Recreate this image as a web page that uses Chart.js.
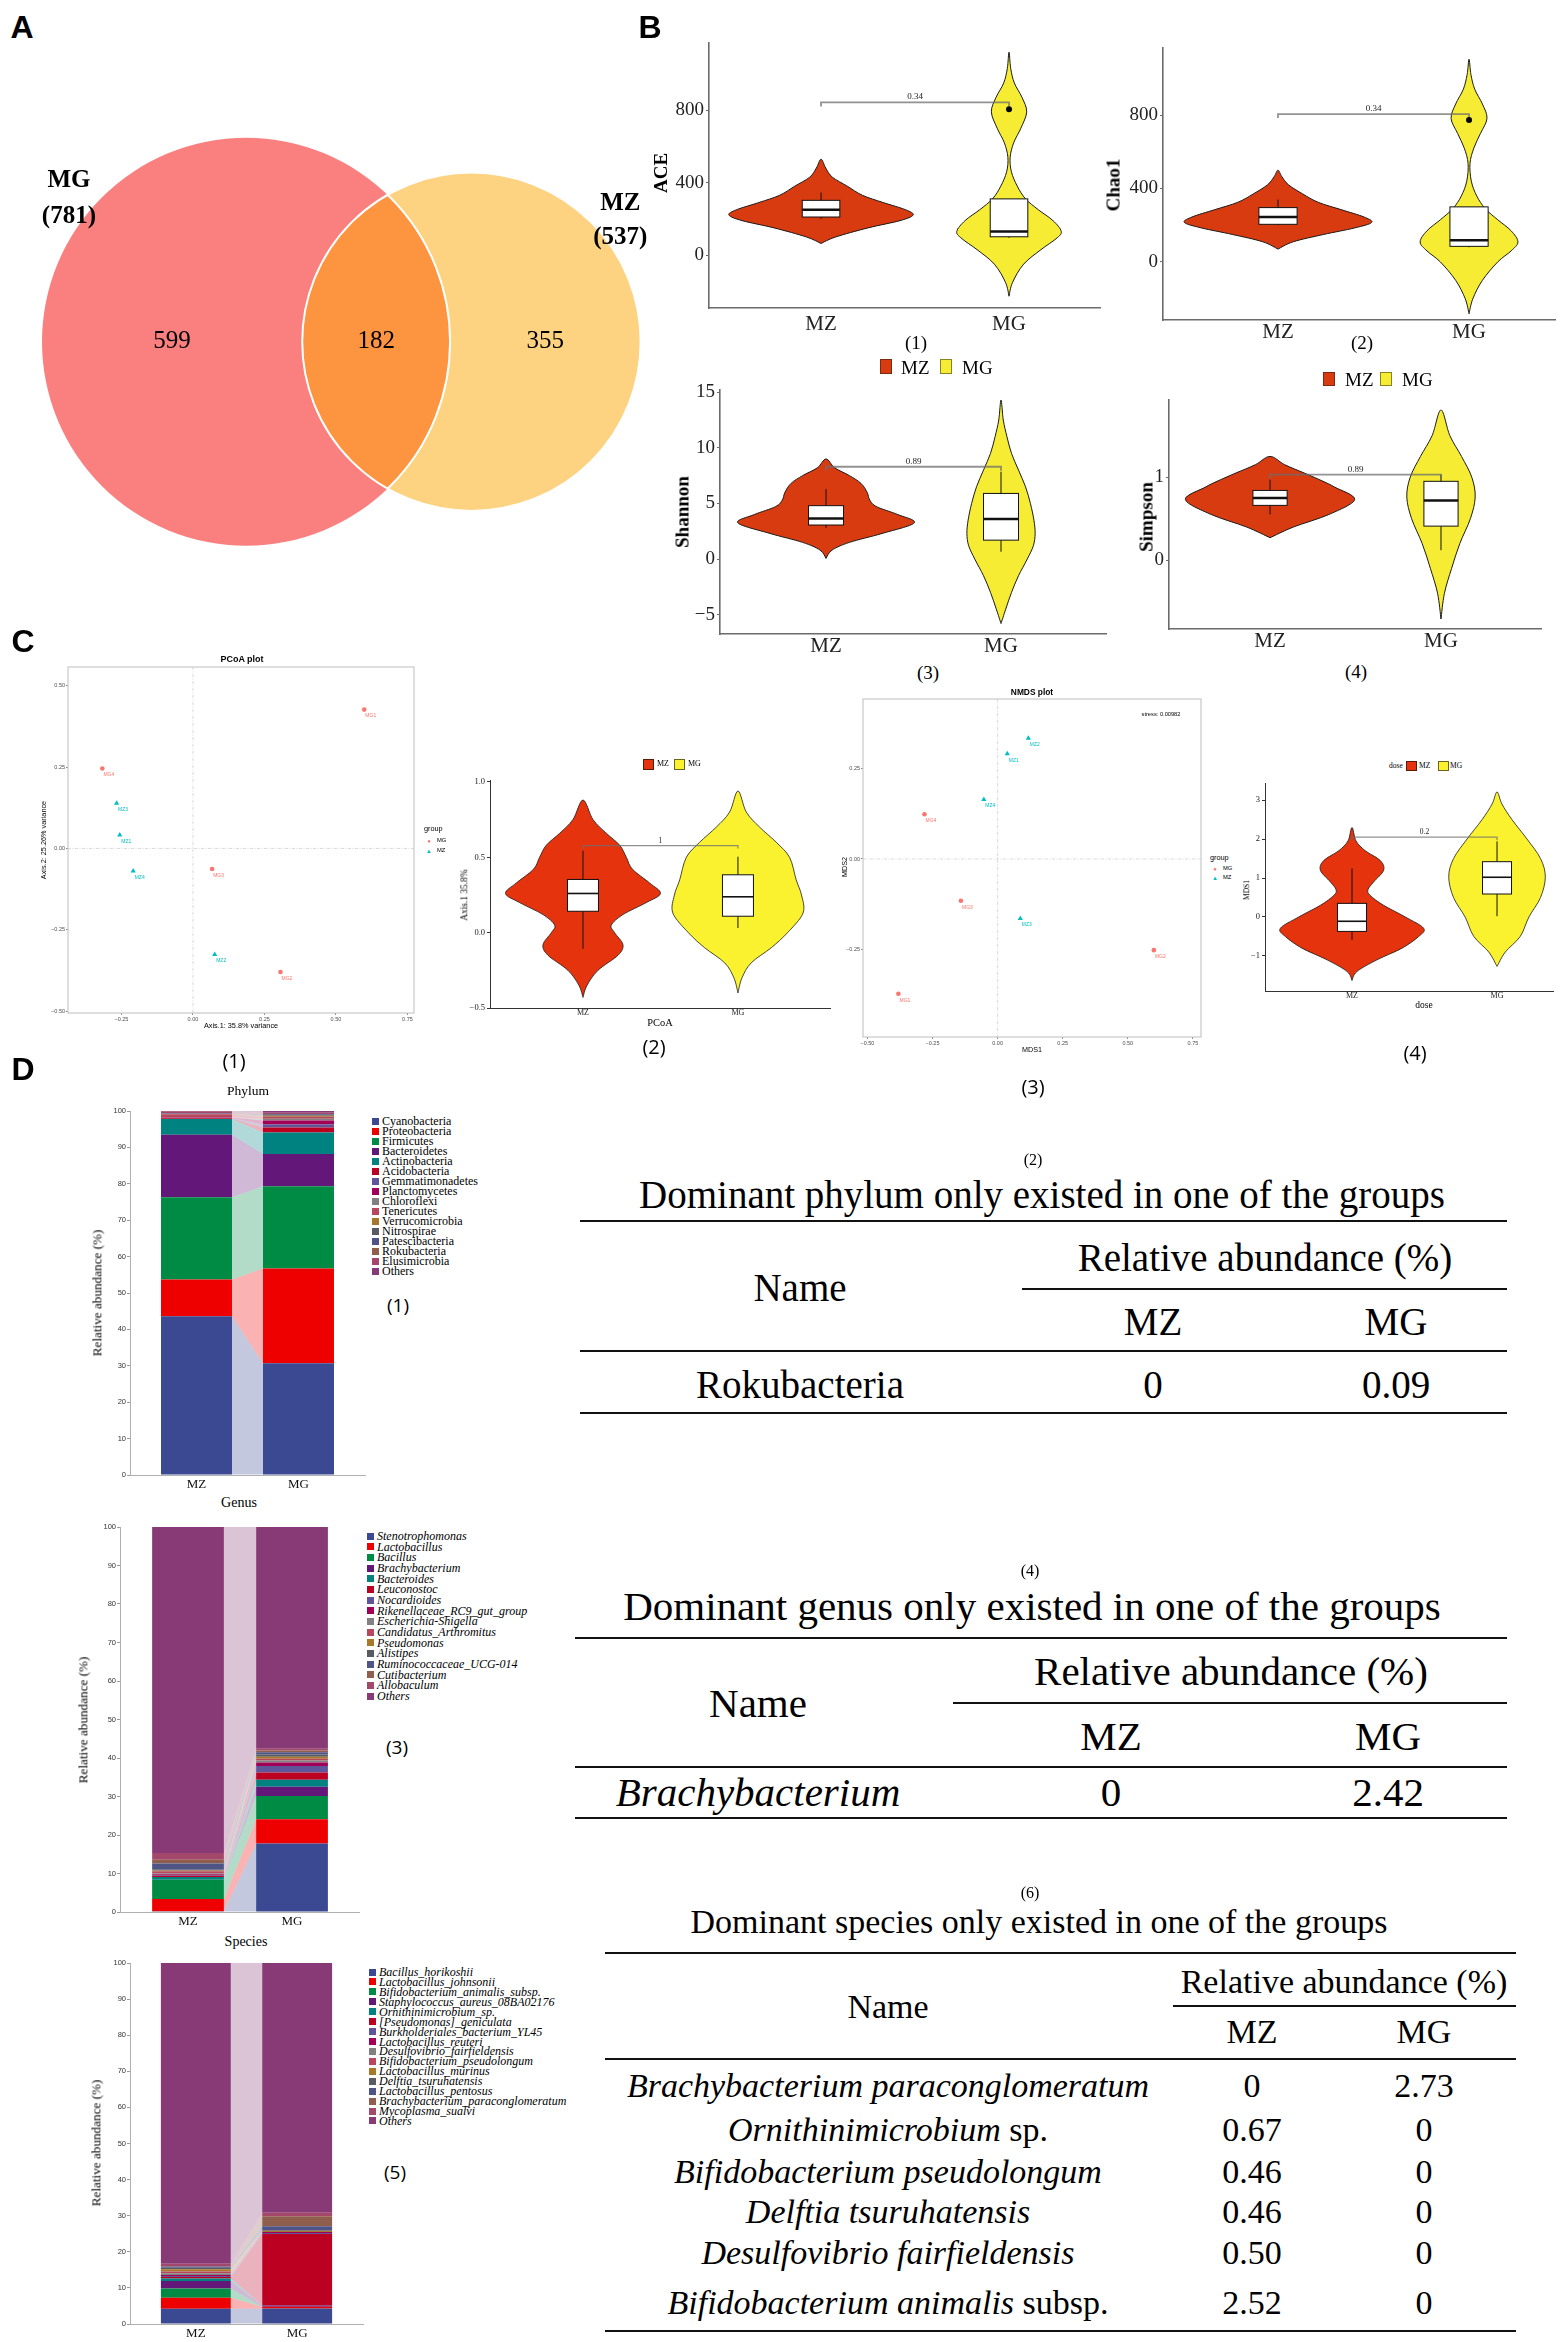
<!DOCTYPE html>
<html>
<head>
<meta charset="utf-8">
<script src="https://cdn.jsdelivr.net/npm/chart.js@4.4.1/dist/chart.umd.min.js"></script>
<style>
html, body { margin: 0; padding: 0; background: #fff; overflow: hidden; }
#page { position: relative; width: 1562px; height: 2342px; background: #fff; }
.t { position: absolute; white-space: nowrap; line-height: 1; color: #000; }
.rule { position: absolute; background: #111; }
.sq { position: absolute; box-sizing: border-box; }
.box { position: absolute; }
</style>
</head>
<body>
<div id="page"></div>
<script>
// ---- data ----
const groups = ['MZ', 'MG'];

// A: Venn
const vennSets = ['MG', 'MZ'];
const vennTotals = [781, 537];
const vennShared = 182;

// B: alpha diversity (violin profile = half width in category units at each level)
const aceTicks = [0, 400, 800];
const aceLevelsMZ = [64, 100, 150, 190, 221, 250, 290, 330, 380, 430, 480, 529];
const aceWidthsMZ = [0, 0.078, 0.25, 0.42, 0.49, 0.45, 0.33, 0.22, 0.14, 0.06, 0.025, 0];
const aceLevelsMG = [-227, -150, -50, 30, 90, 130, 190, 250, 310, 380, 460, 540, 620, 700, 790, 870, 950, 1030, 1120];
const aceWidthsMG = [0, 0.019, 0.078, 0.17, 0.25, 0.278, 0.234, 0.156, 0.088, 0.044, 0.0125, 0.006, 0.025, 0.063, 0.094, 0.069, 0.028, 0.009, 0];
const aceBoxMZ = [200, 210, 250, 302, 345];   // whisker low, q1, median, q3, whisker high
const aceBoxMG = [95, 101, 130, 310, 310];
const aceOutliers = [805];
const aceBracket = 842, aceP = '0.34';

const chaoTicks = [0, 400, 800];
const chaoLevelsMZ = [70, 110, 150, 185, 215, 245, 285, 325, 370, 420, 465, 500];
const chaoWidthsMZ = [0, 0.08, 0.24, 0.40, 0.49, 0.45, 0.33, 0.21, 0.13, 0.055, 0.02, 0];
const chaoLevelsMG = [-282, -200, -100, 0, 60, 109, 170, 230, 290, 360, 440, 536, 620, 700, 782, 860, 940, 1020, 1104];
const chaoWidthsMG = [0, 0.02, 0.07, 0.15, 0.22, 0.256, 0.22, 0.15, 0.085, 0.04, 0.012, 0.005, 0.025, 0.06, 0.094, 0.07, 0.03, 0.01, 0];
const chaoBoxMZ = [200, 205, 245, 296, 340];
const chaoBoxMG = [80, 85, 118, 300, 300];
const chaoOutliers = [773];
const chaoBracket = 805, chaoP = '0.34';

const shTicks = [-5, 0, 5, 10, 15];
const shLevelsMZ = [0.06, 0.8, 1.5, 2.3, 3.25, 4.0, 4.7, 5.3, 6.0, 6.8, 7.5, 8.2, 9.0];
const shWidthsMZ = [0, 0.034, 0.134, 0.32, 0.504, 0.41, 0.29, 0.25, 0.235, 0.2, 0.134, 0.05, 0];
const shLevelsMG = [-5.8, -4.5, -3, -1.5, 0, 1.2, 2.3, 3.5, 5, 6.5, 8, 9.5, 11, 12.5, 14.3];
const shWidthsMG = [0, 0.027, 0.06, 0.1, 0.15, 0.185, 0.195, 0.188, 0.168, 0.14, 0.1, 0.06, 0.034, 0.013, 0];
const shBoxMZ = [2.8, 3.06, 3.65, 4.8, 6.3];
const shBoxMG = [0.66, 1.7, 3.6, 5.9, 7.85];
const shBracket = 8.3, shP = '0.89';

const siTicks = [0, 1];
const siLevelsMZ = [0.27, 0.4, 0.55, 0.73, 0.88, 0.95, 1.05, 1.15, 1.25];
const siWidthsMZ = [0, 0.138, 0.344, 0.495, 0.378, 0.31, 0.2, 0.086, 0];
const siLevelsMG = [-0.71, -0.4, -0.1, 0.2, 0.5, 0.76, 1.0, 1.25, 1.5, 1.81];
const siWidthsMG = [0, 0.02, 0.062, 0.11, 0.172, 0.2, 0.18, 0.12, 0.052, 0];
const siBoxMZ = [0.55, 0.66, 0.75, 0.84, 0.97];
const siBoxMG = [0.12, 0.41, 0.72, 0.95, 1.03];
const siBracket = 1.03, siP = '0.89';

// C: ordination
const sampleNames = ['MG1', 'MG2', 'MG3', 'MG4', 'MZ1', 'MZ2', 'MZ3', 'MZ4'];
const pcoaX = [0.599, 0.306, 0.067, -0.317, -0.256, 0.076, -0.267, -0.209];
const pcoaY = [0.427, -0.380, -0.063, 0.246, 0.041, -0.326, 0.139, -0.069];
const pcoaTicksX = [-0.25, 0, 0.25, 0.5, 0.75];
const pcoaTicksY = [-0.5, -0.25, 0, 0.25, 0.5];
const nmdsX = [-0.381, 0.600, -0.141, -0.281, 0.037, 0.118, 0.087, -0.053];
const nmdsY = [-0.374, -0.253, -0.116, 0.124, 0.292, 0.335, -0.165, 0.165];
const nmdsTicksX = [-0.5, -0.25, 0, 0.25, 0.5, 0.75];
const nmdsTicksY = [-0.25, 0, 0.25];

const paTicks = [-0.5, 0, 0.5, 1.0];
const paLevelsMZ = [-0.43, -0.35, -0.25, -0.15, -0.08, 0.0, 0.05, 0.12, 0.2, 0.26, 0.33, 0.42, 0.5, 0.58, 0.66, 0.75, 0.88];
const paWidthsMZ = [0, 0.026, 0.097, 0.226, 0.258, 0.204, 0.183, 0.258, 0.41, 0.5, 0.43, 0.32, 0.28, 0.237, 0.15, 0.065, 0];
const paLevelsMG = [-0.40, -0.3, -0.2, -0.1, 0.0, 0.13, 0.25, 0.35, 0.5, 0.6, 0.7, 0.8, 0.94];
const paWidthsMG = [0, 0.026, 0.086, 0.215, 0.32, 0.42, 0.41, 0.376, 0.333, 0.247, 0.14, 0.054, 0];
const paBoxMZ = [-0.107, 0.142, 0.26, 0.353, 0.544];
const paBoxMG = [0.031, 0.109, 0.238, 0.384, 0.504];
const paBracket = 0.578, paP = '1';

const mdTicks = [-1, 0, 1, 2, 3];
const mdLevelsMZ = [-1.63, -1.4, -1.1, -0.8, -0.5, -0.29, 0.0, 0.3, 0.55, 0.7, 0.9, 1.2, 1.45, 1.7, 1.95, 2.3];
const mdWidthsMZ = [0, 0.034, 0.172, 0.345, 0.46, 0.494, 0.368, 0.218, 0.126, 0.11, 0.149, 0.218, 0.195, 0.092, 0.028, 0];
const mdLevelsMG = [-1.27, -0.9, -0.5, 0.0, 0.5, 1.03, 1.5, 2.0, 2.5, 2.9, 3.21];
const mdWidthsMG = [0, 0.057, 0.16, 0.22, 0.3, 0.333, 0.3, 0.207, 0.103, 0.034, 0];
const mdBoxMZ = [-0.59, -0.37, -0.11, 0.35, 1.25];
const mdBoxMG = [0.02, 0.59, 1.02, 1.42, 1.94];
const mdBracket = 2.05, mdP = '0.2';

// D: relative abundance (%)
const abundanceTicks = [0, 10, 20, 30, 40, 50, 60, 70, 80, 90, 100];
const phylumNames = ['Cyanobacteria', 'Proteobacteria', 'Firmicutes', 'Bacteroidetes', 'Actinobacteria', 'Acidobacteria', 'Gemmatimonadetes', 'Planctomycetes', 'Chloroflexi', 'Tenericutes', 'Verrucomicrobia', 'Nitrospirae', 'Patescibacteria', 'Rokubacteria', 'Elusimicrobia', 'Others'];
const phylumMZ = [43.6, 10.1, 22.6, 17.2, 4.3, 0.2, 0.1, 0.1, 0.1, 0.8, 0.05, 0.05, 0.1, 0, 0.6, 0.1];
const phylumMG = [30.7, 26.0, 22.6, 8.9, 5.9, 1.4, 0.8, 1.1, 0.5, 0.5, 0.3, 0.2, 0.2, 0.09, 0.3, 0.51];
const genusNames = ['Stenotrophomonas', 'Lactobacillus', 'Bacillus', 'Brachybacterium', 'Bacteroides', 'Leuconostoc', 'Nocardioides', 'Rikenellaceae_RC9_gut_group', 'Escherichia-Shigella', 'Candidatus_Arthromitus', 'Pseudomonas', 'Alistipes', 'Ruminococcaceae_UCG-014', 'Cutibacterium', 'Allobaculum', 'Others'];
const genusMZ = [0.2, 3.2, 5.0, 0, 0.7, 0.3, 0.2, 0.2, 0.2, 0.6, 0.2, 0.2, 1.6, 1.0, 1.7, 84.7];
const genusMG = [17.8, 6.3, 6.0, 2.42, 1.8, 1.9, 1.7, 0.9, 0.5, 0.5, 0.5, 0.6, 0.6, 0.4, 0.5, 57.58];
const speciesNames = ['Bacillus_horikoshii', 'Lactobacillus_johnsonii', 'Bifidobacterium_animalis_subsp.', 'Staphylococcus_aureus_08BA02176', 'Ornithinimicrobium_sp.', '[Pseudomonas]_geniculata', 'Burkholderiales_bacterium_YL45', 'Lactobacillus_reuteri', 'Desulfovibrio_fairfieldensis', 'Bifidobacterium_pseudolongum', 'Lactobacillus_murinus', 'Delftia_tsuruhatensis', 'Lactobacillus_pentosus', 'Brachybacterium_paraconglomeratum', 'Mycoplasma_sualvi', 'Others'];
const speciesMZ = [4.2, 3.1, 2.52, 2.1, 0.67, 0.4, 0.3, 0.3, 0.50, 0.46, 0.6, 0.46, 0.3, 0, 0.8, 83.29];
const speciesMG = [4.3, 0.5, 0, 0.3, 0, 19.8, 0.3, 0.3, 0, 0, 0.3, 0, 1.3, 2.73, 1.0, 69.17];

// D tables
const phylumOnlyNames = ['Rokubacteria'], phylumOnlyMZ = ['0'], phylumOnlyMG = ['0.09'];
const genusOnlyNames = ['<i>Brachybacterium</i>'], genusOnlyMZ = ['0'], genusOnlyMG = ['2.42'];
const speciesOnlyNames = ['<i>Brachybacterium paraconglomeratum</i>', '<i>Ornithinimicrobium</i> sp.', '<i>Bifidobacterium pseudolongum</i>', '<i>Delftia tsuruhatensis</i>', '<i>Desulfovibrio fairfieldensis</i>', '<i>Bifidobacterium animalis</i> subsp.'];
const speciesOnlyMZ = ['0', '0.67', '0.46', '0.46', '0.50', '2.52'];
const speciesOnlyMG = ['2.73', '0', '0', '0', '0', '0'];

// ---- styles ----
const SERIF = "'Liberation Serif', 'Times New Roman', serif";
const SANS = "'Liberation Sans', Arial, sans-serif";
const OPEN = "'Open Sans', sans-serif";
const taxaColors = ['#3B4992', '#EE0000', '#008B45', '#631879', '#008280', '#BB0021', '#5F559B', '#A20056', '#808180', '#B8475E', '#A8782A', '#585B62', '#4E5485', '#8F5E4C', '#A3486A', '#883A76'];
const ordColors = { MG: '#F8766D', MZ: '#00BFC4' };
const B_RED = '#D93B11', B_YEL = '#F5EC33', C_RED = '#E4330D', C_YEL = '#FBF22F';

Chart.defaults.animation = false;
Chart.defaults.responsive = true;
Chart.defaults.maintainAspectRatio = false;
Chart.defaults.plugins.legend.display = false;
Chart.defaults.plugins.tooltip.enabled = false;
Chart.defaults.font.family = SERIF;
Chart.defaults.color = '#222';

const page = document.getElementById('page');

function text(str, x, y, size, o = {}) {
  const d = document.createElement('div');
  d.className = 't';
  d.innerHTML = str;
  d.style.left = x + 'px';
  d.style.top = y + 'px';
  d.style.fontSize = size + 'px';
  d.style.fontFamily = o.family || SERIF;
  if (o.bold) d.style.fontWeight = 'bold';
  if (o.italic) d.style.fontStyle = 'italic';
  if (o.color) d.style.color = o.color;
  d.style.transform = o.rotate ? 'translate(-50%,-50%) rotate(-90deg)' : (o.left ? 'translate(0,-50%)' : 'translate(-50%,-50%)');
  page.appendChild(d);
  return d;
}

function swatch(x1, y1, x2, y2, color, border) {
  const d = document.createElement('div');
  d.className = 'sq';
  d.style.cssText += `left:${x1}px;top:${y1}px;width:${x2 - x1}px;height:${y2 - y1}px;background:${color};` + (border ? `border:1px solid ${border};` : '');
  page.appendChild(d);
}

function rule(x1, x2, y, w) {
  const d = document.createElement('div');
  d.className = 'rule';
  d.style.cssText += `left:${x1}px;top:${y - w / 2}px;width:${x2 - x1}px;height:${w}px;`;
  page.appendChild(d);
}

// canvas placed so that its chart area lands on the given box
function frame(area, m) {
  const wrap = document.createElement('div');
  wrap.className = 'box';
  const w = area.r - area.l + m.L + m.R, h = area.b - area.t + m.T + m.B;
  wrap.style.cssText += `left:${area.l - m.L}px;top:${area.t - m.T}px;width:${w}px;height:${h}px;`;
  const c = document.createElement('canvas');
  wrap.appendChild(c);
  page.appendChild(wrap);
  return {
    canvas: c,
    layout: { autoPadding: false, padding: { top: m.T, right: m.R, left: 0, bottom: 0 } },
    fitY: s => { s.width = m.L; },
    fitX: s => { s.height = m.B; }
  };
}

const fixedTicks = values => s => { s.ticks = values.map(v => ({ value: v })); };
const minus = s => String(s).replace('-', '\u2212');

function smooth(ctx, pts) {
  ctx.moveTo(pts[0][0], pts[0][1]);
  for (let i = 0; i < pts.length - 1; i++) {
    const p0 = pts[i - 1] || pts[i], p1 = pts[i], p2 = pts[i + 1], p3 = pts[i + 2] || p2;
    ctx.bezierCurveTo(p1[0] + (p2[0] - p0[0]) / 6, p1[1] + (p2[1] - p0[1]) / 6,
      p2[0] - (p3[0] - p1[0]) / 6, p2[1] - (p3[1] - p1[1]) / 6, p2[0], p2[1]);
  }
}

function fade(hex, a) {
  const n = parseInt(hex.slice(1), 16);
  return `rgba(${n >> 16},${(n >> 8) & 255},${n & 255},${a})`;
}

// ---- plugins ----
const vennPlugin = {
  id: 'venn',
  afterDraw(chart) {
    const { ctx, scales: { x, y } } = chart;
    const r1 = Math.sqrt(vennTotals[0]), r2 = Math.sqrt(vennTotals[1]);
    const lens = d => {
      const a1 = Math.acos((d * d + r1 * r1 - r2 * r2) / (2 * d * r1));
      const a2 = Math.acos((d * d + r2 * r2 - r1 * r1) / (2 * d * r2));
      const k = Math.sqrt((-d + r1 + r2) * (d + r1 - r2) * (d - r1 + r2) * (d + r1 + r2));
      return r1 * r1 * a1 + r2 * r2 * a2 - 0.5 * k;
    };
    let lo = Math.abs(r1 - r2) + 1e-6, hi = r1 + r2 - 1e-6;
    for (let i = 0; i < 60; i++) {
      const mid = (lo + hi) / 2;
      if (lens(mid) > Math.PI * vennShared) lo = mid; else hi = mid;
    }
    const d = (lo + hi) / 2;
    const cy = y.getPixelForValue(0);
    const shape = (cx, r) => {
      const px = x.getPixelForValue(cx);
      const rx = x.getPixelForValue(cx + r) - px, ry = cy - y.getPixelForValue(r);
      ctx.beginPath();
      ctx.ellipse(px, cy, rx, ry, 0, 0, Math.PI * 2);
      return { px, rx, ry };
    };
    ctx.save();
    const mg = shape(0, r1); ctx.fillStyle = '#FA8080'; ctx.fill();
    const mz = shape(d, r2); ctx.fillStyle = '#FDD280'; ctx.fill();
    ctx.save(); shape(0, r1); ctx.clip();
    shape(d, r2); ctx.fillStyle = '#FD9440'; ctx.fill();
    ctx.restore();
    ctx.strokeStyle = '#fff'; ctx.lineWidth = 2;
    shape(d, r2); ctx.stroke();
    ctx.save(); shape(d, r2); ctx.clip(); shape(0, r1); ctx.stroke(); ctx.restore();

    ctx.fillStyle = '#000'; ctx.textAlign = 'center'; ctx.textBaseline = 'middle';
    ctx.font = `25px ${SERIF}`;
    const onlyA = vennTotals[0] - vennShared, onlyB = vennTotals[1] - vennShared;
    ctx.fillText(onlyA, x.getPixelForValue((-r1 + d - r2) / 2), cy);
    ctx.fillText(vennShared, x.getPixelForValue((d - r2 + r1) / 2), cy);
    ctx.fillText(onlyB, x.getPixelForValue((r1 + d + r2) / 2), cy);
    ctx.font = `bold 25px ${SERIF}`;
    ctx.fillText(vennSets[0], mg.px - 0.868 * mg.rx, cy - 0.79 * mg.ry);
    ctx.fillText(`(${vennTotals[0]})`, mg.px - 0.868 * mg.rx, cy - 0.615 * mg.ry);
    ctx.fillText(vennSets[1], mz.px + 0.88 * mz.rx, cy - 0.82 * mz.ry);
    ctx.fillText(`(${vennTotals[1]})`, mz.px + 0.88 * mz.rx, cy - 0.615 * mz.ry);
    ctx.restore();
  }
};

const violinPlugin = {
  id: 'violin',
  beforeDatasetsDraw(chart, args, o) {
    const { ctx, scales: { x, y } } = chart;
    ctx.save();
    o.groups.forEach((g, gi) => {
      const cx = gi + 1;
      const right = g.levels.map((v, i) => [x.getPixelForValue(cx + g.widths[i]), y.getPixelForValue(v)]);
      const left = g.levels.map((v, i) => [x.getPixelForValue(cx - g.widths[i]), y.getPixelForValue(v)]).reverse();
      ctx.beginPath();
      smooth(ctx, right.concat(left.slice(1)));
      ctx.closePath();
      ctx.fillStyle = g.color; ctx.fill();
      ctx.strokeStyle = '#1a1a1a'; ctx.lineWidth = o.lineW; ctx.stroke();

      const [wl, q1, med, q3, wh] = g.box;
      const xc = x.getPixelForValue(cx);
      const bl = x.getPixelForValue(cx - o.boxW / 2), br = x.getPixelForValue(cx + o.boxW / 2);
      ctx.beginPath();
      ctx.moveTo(xc, y.getPixelForValue(wl)); ctx.lineTo(xc, y.getPixelForValue(q1));
      ctx.moveTo(xc, y.getPixelForValue(q3)); ctx.lineTo(xc, y.getPixelForValue(wh));
      ctx.strokeStyle = '#111'; ctx.lineWidth = 1; ctx.stroke();
      const top = y.getPixelForValue(q3), bot = y.getPixelForValue(q1);
      ctx.fillStyle = '#fff';
      ctx.fillRect(bl, top, br - bl, bot - top);
      ctx.strokeRect(bl, top, br - bl, bot - top);
      const my = y.getPixelForValue(med);
      ctx.beginPath(); ctx.moveTo(bl, my); ctx.lineTo(br, my);
      ctx.lineWidth = o.medW; ctx.stroke();
    });
    const b = o.bracket;
    const by = y.getPixelForValue(b.y), x1 = x.getPixelForValue(1), x2 = x.getPixelForValue(2);
    ctx.beginPath();
    ctx.moveTo(x1, by + b.tip); ctx.lineTo(x1, by); ctx.lineTo(x2, by); ctx.lineTo(x2, by + b.tip);
    ctx.strokeStyle = 'rgba(110,110,110,0.75)'; ctx.lineWidth = b.w; ctx.stroke();
    ctx.fillStyle = '#222'; ctx.font = `${b.size}px ${SERIF}`;
    ctx.textAlign = 'center'; ctx.textBaseline = 'bottom';
    ctx.fillText(b.text, (x1 + x2) / 2, by - 1);
    ctx.restore();
  }
};

const ordinationPlugin = {
  id: 'ordination',
  beforeDatasetsDraw(chart) {
    const { ctx, chartArea: a, scales: { x, y } } = chart;
    ctx.save();
    ctx.strokeStyle = '#cfcfcf'; ctx.lineWidth = 0.8;
    ctx.setLineDash([3, 1.5, 1, 1.5]);
    const x0 = x.getPixelForValue(0), y0 = y.getPixelForValue(0);
    ctx.beginPath(); ctx.moveTo(x0, a.top); ctx.lineTo(x0, a.bottom);
    ctx.moveTo(a.left, y0); ctx.lineTo(a.right, y0); ctx.stroke();
    ctx.setLineDash([]);
    ctx.strokeStyle = '#c8c8c8'; ctx.lineWidth = 1.2;
    ctx.strokeRect(a.left, a.top, a.right - a.left, a.bottom - a.top);
    ctx.restore();
  },
  afterDatasetsDraw(chart) {
    const ctx = chart.ctx;
    ctx.save();
    ctx.font = `5px ${SANS}`; ctx.textAlign = 'center'; ctx.textBaseline = 'middle';
    chart.data.datasets.forEach((ds, i) => {
      chart.getDatasetMeta(i).data.forEach((pt, j) => {
        ctx.fillStyle = ds.backgroundColor;
        ctx.fillText(ds.data[j].name, pt.x + 6.5, pt.y + 6.5);
      });
    });
    ctx.restore();
  }
};

const alluvialPlugin = {
  id: 'alluvial',
  beforeDatasetsDraw(chart) {
    const ctx = chart.ctx;
    ctx.save();
    chart.data.datasets.forEach((ds, i) => {
      const [a, b] = chart.getDatasetMeta(i).data;
      const ax = a.x + a.width / 2, bx = b.x - b.width / 2;
      ctx.beginPath();
      ctx.moveTo(ax, a.y); ctx.lineTo(bx, b.y); ctx.lineTo(bx, b.base); ctx.lineTo(ax, a.base);
      ctx.closePath();
      ctx.fillStyle = fade(ds.backgroundColor, 0.3);
      ctx.fill();
    });
    ctx.restore();
  }
};

// ---- chart builders ----
function violinChart(area, m, c) {
  const f = frame(area, m);
  new Chart(f.canvas, {
    type: 'scatter',
    data: { datasets: [{ data: c.outliers.map(v => ({ x: 2, y: v })), pointRadius: 3, backgroundColor: '#000', borderWidth: 0 }] },
    options: {
      layout: f.layout,
      scales: {
        x: {
          type: 'linear', min: c.xMin, max: c.xMax, afterFit: f.fitX, afterBuildTicks: fixedTicks([1, 2]),
          grid: { display: false, drawTicks: false },
          border: { display: true, color: c.axisColor, width: c.axisW },
          ticks: { callback: v => groups[v - 1], font: { family: SERIF, size: c.catSize }, color: '#222', padding: c.catPad, maxRotation: 0, autoSkip: false }
        },
        y: {
          min: c.yMin, max: c.yMax, afterFit: f.fitY, afterBuildTicks: fixedTicks(c.ticks),
          grid: { display: true, drawOnChartArea: false, drawTicks: true, tickLength: 3, color: c.axisColor },
          border: { display: true, color: c.axisColor, width: c.axisW },
          ticks: { callback: c.fmt, font: { family: SERIF, size: c.tickSize }, color: '#222', padding: 2, autoSkip: false }
        }
      },
      plugins: { violin: c.violin }
    },
    plugins: [violinPlugin]
  });
}

function ordinationChart(area, m, xs, ys, c) {
  const f = frame(area, m);
  const datasets = ['MG', 'MZ'].map(g => ({
    data: sampleNames.map((n, i) => ({ x: xs[i], y: ys[i], name: n })).filter(p => p.name.startsWith(g)),
    pointStyle: g === 'MG' ? 'circle' : 'triangle',
    pointRadius: g === 'MG' ? 2.3 : 3,
    backgroundColor: ordColors[g], borderColor: ordColors[g], borderWidth: 0
  }));
  const tick = { font: { family: SANS, size: 5.5 }, color: '#4d4d4d', padding: 1, autoSkip: false, maxRotation: 0, callback: v => minus(v.toFixed(2)) };
  new Chart(f.canvas, {
    type: 'scatter',
    data: { datasets },
    options: {
      layout: f.layout,
      scales: {
        x: { min: c.xMin, max: c.xMax, afterFit: f.fitX, afterBuildTicks: fixedTicks(c.ticksX),
          grid: { display: true, drawOnChartArea: false, tickLength: 2, color: '#888' }, border: { display: false }, ticks: tick },
        y: { min: c.yMin, max: c.yMax, afterFit: f.fitY, afterBuildTicks: fixedTicks(c.ticksY),
          grid: { display: true, drawOnChartArea: false, tickLength: 2, color: '#888' }, border: { display: false }, ticks: tick }
      }
    },
    plugins: [ordinationPlugin]
  });
}

function stackChart(area, m, names, mz, mg, c) {
  const f = frame(area, m);
  new Chart(f.canvas, {
    type: 'bar',
    data: {
      datasets: names.map((n, i) => ({
        label: n, data: [{ x: 1, y: mz[i] }, { x: 2, y: mg[i] }],
        backgroundColor: taxaColors[i], borderWidth: 0, categoryPercentage: c.cat, barPercentage: 1
      }))
    },
    options: {
      layout: f.layout,
      scales: {
        x: {
          type: 'linear', stacked: true, offset: false, min: c.xMin, max: c.xMax, afterFit: f.fitX, afterBuildTicks: fixedTicks([1, 2]),
          grid: { display: false, drawTicks: false }, border: { display: true, color: '#b0b0b0', width: 1 },
          ticks: { callback: v => groups[v - 1], font: { family: SERIF, size: 13 }, color: '#111', padding: 2, maxRotation: 0, autoSkip: false }
        },
        y: {
          stacked: true, min: 0, max: 100, afterFit: f.fitY, afterBuildTicks: fixedTicks(abundanceTicks),
          grid: { display: true, drawOnChartArea: false, tickLength: 3, color: '#9a9a9a' }, border: { display: true, color: '#b0b0b0', width: 1 },
          ticks: { font: { family: SANS, size: 7.5 }, color: '#333', padding: 1, autoSkip: false }
        }
      }
    },
    plugins: [alluvialPlugin]
  });
}

function taxaLegend(names, x, y0, step, italic) {
  names.forEach((n, i) => {
    const y = y0 + i * step;
    swatch(x, y - 3.5, x + 7, y + 3.5, taxaColors[i]);
    text(n, x + 10, y, 12, { left: true, italic });
  });
}

function table(t) {
  text(t.tag, t.tagX, t.tagY, 16);
  text(t.title, t.titleX, t.titleY, t.size);
  rule(t.x1, t.x2, t.top, 2.5);
  text('Name', t.nameX, t.nameY, t.size);
  text('Relative abundance (%)', t.raX, t.raY, t.size);
  rule(t.subX, t.x2, t.subY, 2);
  text('MZ', t.mzX, t.hdrY, t.size);
  text('MG', t.mgX, t.hdrY, t.size);
  rule(t.x1, t.x2, t.mid, 2.5);
  t.rows.forEach((ry, i) => {
    text(t.names[i], t.nameX, ry, t.size);
    text(t.mz[i], t.mzX, ry, t.size);
    text(t.mg[i], t.mgX, ry, t.size);
  });
  rule(t.x1, t.x2, t.bottom, 2.5);
}

// ---- A ----
(function () {
  const wrap = document.createElement('div');
  wrap.className = 'box';
  wrap.style.cssText += 'left:0px;top:60px;width:660px;height:600px;';
  const c = document.createElement('canvas');
  wrap.appendChild(c);
  page.appendChild(wrap);
  new Chart(c, {
    type: 'scatter',
    data: { datasets: [] },
    options: {
      layout: { autoPadding: false, padding: 0 },
      scales: { x: { display: false, min: -33.7, max: 56.7 }, y: { display: false, min: -43.6, max: 38.6 } }
    },
    plugins: [vennPlugin]
  });
})();

// ---- B ----
const bStyle = { tickSize: 19, catSize: 21, catPad: 0, axisColor: '#6b6b6b', axisW: 1.6 };
const bViolin = (mz, mg, bracket, p) => ({ groups: [{ ...mz, color: B_RED }, { ...mg, color: B_YEL }], boxW: 0.2, medW: 2.5, lineW: 1,
  bracket: { y: bracket, text: p, size: 9, tip: 4, w: 1.8 } });

violinChart({ l: 709, t: 43, r: 1100, b: 308 }, { L: 59, T: 15, R: 8, B: 30 }, { ...bStyle, catPad: 4,
  xMin: 0.404, xMax: 2.484, yMin: -292, yMax: 1170, ticks: aceTicks, fmt: minus, outliers: aceOutliers,
  violin: bViolin({ levels: aceLevelsMZ, widths: aceWidthsMZ, box: aceBoxMZ }, { levels: aceLevelsMG, widths: aceWidthsMG, box: aceBoxMG }, aceBracket, aceP) });
violinChart({ l: 1163, t: 48, r: 1555, b: 320 }, { L: 50, T: 15, R: 5, B: 25 }, { ...bStyle,
  xMin: 0.398, xMax: 2.45, yMin: -316, yMax: 1165, ticks: chaoTicks, fmt: minus, outliers: chaoOutliers,
  violin: bViolin({ levels: chaoLevelsMZ, widths: chaoWidthsMZ, box: chaoBoxMZ }, { levels: chaoLevelsMG, widths: chaoWidthsMG, box: chaoBoxMG }, chaoBracket, chaoP) });
violinChart({ l: 720, t: 390, r: 1106, b: 634 }, { L: 50, T: 15, R: 5, B: 25 }, { ...bStyle,
  xMin: 0.394, xMax: 2.6, yMin: -6.74, yMax: 15.2, ticks: shTicks, fmt: minus, outliers: [],
  violin: bViolin({ levels: shLevelsMZ, widths: shWidthsMZ, box: shBoxMZ }, { levels: shLevelsMG, widths: shWidthsMG, box: shBoxMG }, shBracket, shP) });
violinChart({ l: 1169, t: 400, r: 1541, b: 629 }, { L: 40, T: 15, R: 5, B: 25 }, { ...bStyle,
  xMin: 0.409, xMax: 2.585, yMin: -0.83, yMax: 1.93, ticks: siTicks, fmt: minus, outliers: [],
  violin: bViolin({ levels: siLevelsMZ, widths: siWidthsMZ, box: siBoxMZ }, { levels: siLevelsMG, widths: siWidthsMG, box: siBoxMG }, siBracket, siP) });

text('ACE', 660, 173, 19, { rotate: true, bold: true });
text('Chao1', 1113, 185, 19, { rotate: true, bold: true });
text('Shannon', 682, 512, 19, { rotate: true, bold: true });
text('Simpson', 1146, 517, 19, { rotate: true, bold: true });
text('(1)', 916, 342, 19); text('(2)', 1362, 342, 19);
text('(3)', 928, 672, 19); text('(4)', 1356, 671, 19);
swatch(880, 359, 892, 374, B_RED, '#7a2a10'); text('MZ', 901, 367, 19, { left: true });
swatch(940, 359, 952, 374, B_YEL, '#8a8420'); text('MG', 962, 367, 19, { left: true });
swatch(1323, 372, 1335, 386, B_RED, '#7a2a10'); text('MZ', 1345, 379, 19, { left: true });
swatch(1380, 372, 1392, 386, B_YEL, '#8a8420'); text('MG', 1402, 379, 19, { left: true });

// ---- C ----
ordinationChart({ l: 68, t: 667, r: 414, b: 1013 }, { L: 30, T: 6, R: 5, B: 10 }, pcoaX, pcoaY,
  { xMin: -0.437, xMax: 0.773, yMin: -0.506, yMax: 0.558, ticksX: pcoaTicksX, ticksY: pcoaTicksY });
ordinationChart({ l: 863, t: 699, r: 1201, b: 1037 }, { L: 30, T: 6, R: 5, B: 10 }, nmdsX, nmdsY,
  { xMin: -0.517, xMax: 0.781, yMin: -0.494, yMax: 0.444, ticksX: nmdsTicksX, ticksY: nmdsTicksY });

const cStyle = { tickSize: 8.5, catSize: 8, catPad: 0, axisColor: '#333', axisW: 1 };
const cViolin = (mz, mg, bracket, p) => ({ groups: [{ ...mz, color: C_RED }, { ...mg, color: C_YEL }], boxW: 0.2, medW: 1.6, lineW: 0.8,
  bracket: { y: bracket, text: p, size: 7.5, tip: 3, w: 1.3 } });
violinChart({ l: 490, t: 780, r: 830, b: 1008 }, { L: 40, T: 8, R: 5, B: 14 }, { ...cStyle,
  xMin: 0.4, xMax: 2.594, yMin: -0.5, yMax: 1.013, ticks: paTicks, fmt: v => minus(v.toFixed(1)), outliers: [],
  violin: cViolin({ levels: paLevelsMZ, widths: paWidthsMZ, box: paBoxMZ }, { levels: paLevelsMG, widths: paWidthsMG, box: paBoxMG }, paBracket, paP) });
violinChart({ l: 1265, t: 783, r: 1553, b: 991 }, { L: 30, T: 8, R: 5, B: 14 }, { ...cStyle,
  xMin: 0.4, xMax: 2.386, yMin: -1.9, yMax: 3.44, ticks: mdTicks, fmt: minus, outliers: [],
  violin: cViolin({ levels: mdLevelsMZ, widths: mdWidthsMZ, box: mdBoxMZ }, { levels: mdLevelsMG, widths: mdWidthsMG, box: mdBoxMG }, mdBracket, mdP) });

text('PCoA plot', 242, 659, 9, { family: SANS, bold: true });
text('Axis.1: 35.8% variance', 241, 1026, 7.3, { family: SANS });
text('Axis.2: 25.26% variance', 44, 840, 7.3, { family: SANS, rotate: true });
text('group', 424, 829, 7.3, { family: SANS, left: true });
text('\u25CF', 429, 841, 6, { family: SANS, color: ordColors.MG });
text('MG', 437, 841, 5.8, { family: SANS, left: true });
text('\u25B2', 429, 851, 6, { family: SANS, color: ordColors.MZ });
text('MZ', 437, 851, 5.8, { family: SANS, left: true });
text('(1)', 234, 1061, 20, { family: OPEN });

swatch(643, 759, 654, 770, C_RED, '#5a1a08'); text('MZ', 657, 764, 8, { left: true });
swatch(674, 759, 685, 770, C_YEL, '#6a6420'); text('MG', 688, 764, 8, { left: true });
text('Axis.1 35.8%', 465, 895, 9.4, { rotate: true });
text('PCoA', 660, 1023, 10.4);
text('(2)', 654, 1047, 20, { family: OPEN });

text('NMDS plot', 1032, 692, 8.4, { family: SANS, bold: true });
text('stress: 0.00982', 1161, 715, 5.7, { family: SANS });
text('MDS1', 1032, 1050, 7.2, { family: SANS });
text('MDS2', 845, 867, 7.2, { family: SANS, rotate: true });
text('group', 1210, 858, 7.3, { family: SANS, left: true });
text('\u25CF', 1215, 869, 6, { family: SANS, color: ordColors.MG });
text('MG', 1223, 869, 5.8, { family: SANS, left: true });
text('\u25B2', 1215, 878, 6, { family: SANS, color: ordColors.MZ });
text('MZ', 1223, 878, 5.8, { family: SANS, left: true });
text('(3)', 1033, 1087, 20, { family: OPEN });

text('dose', 1389, 766, 7.5, { left: true });
swatch(1406, 761, 1417, 771, C_RED, '#5a1a08'); text('MZ', 1419, 766, 7.5, { left: true });
swatch(1438, 761, 1449, 771, C_YEL, '#6a6420'); text('MG', 1450, 766, 7.5, { left: true });
text('MDS1', 1247, 890, 7.5, { rotate: true });
text('dose', 1424, 1006, 9.5);
text('(4)', 1415, 1053, 20, { family: OPEN });

// ---- D ----
stackChart({ l: 130, t: 1111, r: 365, b: 1475 }, { L: 30, T: 8, R: 5, B: 18 }, phylumNames, phylumMZ, phylumMG,
  { cat: 0.696, xMin: 0.348, xMax: 2.652 });
stackChart({ l: 120, t: 1527, r: 359, b: 1912 }, { L: 30, T: 8, R: 5, B: 18 }, genusNames, genusMZ, genusMG,
  { cat: 0.69, xMin: 0.346, xMax: 2.644 });
stackChart({ l: 130, t: 1963, r: 363, b: 2324 }, { L: 30, T: 8, R: 5, B: 18 }, speciesNames, speciesMZ, speciesMG,
  { cat: 0.69, xMin: 0.35, xMax: 2.65 });

text('Phylum', 248, 1091, 13.5);
text('Genus', 239, 1503, 14);
text('Species', 246, 1942, 14);
text('Relative abundance (%)', 97, 1293, 13.2, { rotate: true });
text('Relative abundance (%)', 83, 1720, 13.2, { rotate: true });
text('Relative abundance (%)', 96, 2143, 13.2, { rotate: true });
taxaLegend(phylumNames, 372, 1121, 10, false);
taxaLegend(genusNames, 367, 1536, 10.67, true);
taxaLegend(speciesNames, 369, 1972, 9.93, true);
text('(1)', 398, 1305, 19, { family: OPEN });
text('(3)', 397, 1747, 19, { family: OPEN });
text('(5)', 395, 2172, 19, { family: OPEN });

table({ tag: '(2)', tagX: 1033, tagY: 1160, title: 'Dominant phylum only existed in one of the groups', titleX: 1042, titleY: 1194, size: 39,
  x1: 580, x2: 1507, top: 1221, nameX: 800, nameY: 1287, raX: 1265, raY: 1257, subX: 1022, subY: 1289,
  mzX: 1153, mgX: 1396, hdrY: 1321, mid: 1351, rows: [1384], bottom: 1413,
  names: phylumOnlyNames, mz: phylumOnlyMZ, mg: phylumOnlyMG });
table({ tag: '(4)', tagX: 1030, tagY: 1571, title: 'Dominant genus only existed in one of the groups', titleX: 1032, titleY: 1606, size: 41,
  x1: 575, x2: 1507, top: 1638, nameX: 758, nameY: 1703, raX: 1231, raY: 1671, subX: 953, subY: 1703,
  mzX: 1111, mgX: 1388, hdrY: 1736, mid: 1767, rows: [1792], bottom: 1818,
  names: genusOnlyNames, mz: genusOnlyMZ, mg: genusOnlyMG });
table({ tag: '(6)', tagX: 1030, tagY: 1893, title: 'Dominant species only existed in one of the groups', titleX: 1039, titleY: 1922, size: 34,
  x1: 605, x2: 1516, top: 1953, nameX: 888, nameY: 2007, raX: 1344, raY: 1982, subX: 1173, subY: 2006,
  mzX: 1252, mgX: 1424, hdrY: 2032, mid: 2059, rows: [2086, 2130, 2172, 2212, 2253, 2303], bottom: 2331,
  names: speciesOnlyNames, mz: speciesOnlyMZ, mg: speciesOnlyMG });

// panel letters
text('A', 22, 27, 32, { family: SANS, bold: true });
text('B', 650, 27, 32, { family: SANS, bold: true });
text('C', 23, 641, 32, { family: SANS, bold: true });
text('D', 23, 1069, 32, { family: SANS, bold: true });
</script>
</body>
</html>
